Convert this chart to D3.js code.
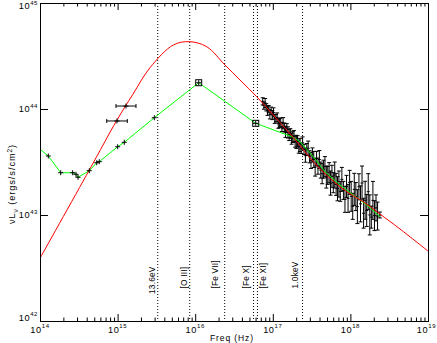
<!DOCTYPE html>
<html><head><meta charset="utf-8">
<script src="https://cdn.jsdelivr.net/npm/d3@7"></script>
<style>
html,body{margin:0;padding:0;background:#fff;}
svg{display:block;}
text{font-family:"Liberation Sans",Arial,Helvetica,sans-serif;fill:#000;}
</style></head><body>
<svg id="c" width="437" height="343"></svg>
<script>
// ---------- DATA (log10 values) ----------
const xTickExp = [14, 15, 16, 17, 18, 19];
const yTickExp = [42, 43, 44, 45];

// model (red)
const modelNu = [14.000, 14.635, 14.992, 15.198, 15.418, 15.718, 15.929, 16.148, 16.384, 16.577, 16.793, 17.006, 17.264, 17.522, 17.737, 17.952, 18.166, 18.381, 18.639, 19.000];
const modelL  = [42.592, 43.424, 43.896, 44.140, 44.390, 44.604, 44.635, 44.588, 44.415, 44.274, 44.116, 43.943, 43.731, 43.503, 43.346, 43.220, 43.125, 43.009, 42.868, 42.660];

// photometric points (crosses, on green SED)
const photNu = [13.936, 14.107, 14.267, 14.421, 14.464, 14.490, 14.635, 14.731, 14.764, 15.001, 15.086, 15.473];
const photL  = [43.658, 43.557, 43.399, 43.399, 43.384, 43.356, 43.418, 43.493, 43.503, 43.644, 43.686, 43.918];
// square points
const sqNu = [16.045, 16.780];
const sqL  = [44.248, 43.865];
// binned X-ray points of the SED line
const binNu = [17.244, 17.351, 17.522, 17.673, 17.866, 18.037, 18.210, 18.381];
const binL  = [43.739, 43.692, 43.550, 43.408, 43.283, 43.189, 43.094, 42.984];

// UV points with frequency error bars
const uvNu   = [15.108, 14.992];
const uvNuLo = [14.979, 14.860];
const uvNuHi = [15.237, 15.125];
const uvL    = [44.028, 43.887];

// X-ray spectrum
const xrNu = [16.870,16.885,16.901,16.916,16.932,16.947,16.963,16.978,16.994,17.009,17.025,17.040,17.056,17.071,17.087,17.102,17.118,17.133,17.149,17.164,17.180,17.195,17.211,17.226,17.242,17.257,17.273,17.288,17.304,17.319,17.335,17.350,
 17.366,17.384,17.402,17.420,17.438,17.456,17.474,17.492,17.510,17.528,17.546,17.564,17.582,17.600,17.618,17.636,17.654,17.672,17.690,17.708,17.726,17.744,17.762,17.780,17.798,17.816,17.834,17.852,
 17.870,17.890,17.910,17.930,17.950,17.970,17.990,18.010,18.030,18.050,18.070,18.090,18.110,18.130,18.150,18.170,18.190,18.210,18.230,18.250,18.270,18.290,18.310,18.330,18.350,18.380];
const xrL = [44.072,44.032,44.056,44.016,43.983,43.999,43.949,43.984,43.943,43.968,43.907,43.914,43.920,43.861,43.867,43.873,43.831,43.866,43.825,43.785,43.819,43.779,43.755,43.771,43.721,43.737,43.743,43.693,43.690,43.695,43.645,43.661,
 43.629,43.680,43.618,43.565,43.617,43.630,43.549,43.515,43.566,43.524,43.452,43.533,43.461,43.523,43.424,43.390,43.432,43.456,43.358,43.374,43.399,43.301,43.365,43.305,43.377,43.289,43.248,43.292,
 43.223,43.336,43.232,43.148,43.270,43.157,43.308,43.176,43.082,43.242,43.174,43.079,43.266,43.105,43.302,43.017,43.139,43.043,43.220,43.001,42.980,43.138,42.994,43.067,42.990,43.000];
const xrErr = [0.034,0.034,0.043,0.034,0.043,0.034,0.043,0.034,0.043,0.043,0.043,0.034,0.043,0.043,0.043,0.043,0.043,0.053,0.043,0.053,0.043,0.053,0.053,0.043,0.053,0.053,0.053,0.053,0.062,0.053,0.062,0.062,
 0.048,0.057,0.048,0.067,0.057,0.067,0.057,0.076,0.067,0.076,0.085,0.067,0.076,0.085,0.076,0.095,0.085,0.095,0.104,0.085,0.095,0.114,0.104,0.095,0.123,0.104,0.114,0.123,
 0.094,0.113,0.085,0.123,0.104,0.132,0.113,0.141,0.123,0.151,0.132,0.160,0.123,0.170,0.160,0.141,0.179,0.151,0.170,0.189,0.104,0.179,0.141,0.123,0.132,0.028];

// vertical reference lines
const refNu = [3.29e15, 8.5e15, 2.40e16, 5.65e16, 6.34e16, 2.418e17];
const refLabel = ["13.6eV", "[O III]", "[Fe VII]", "[Fe X]", "[Fe XI]", "1.0keV"];

// ---------- LAYOUT ----------
const L = 40, R = 428, T = 3, B = 321;
const labelDx = [-2.5, -2.5, -6.5, -5, 8.5, -4.5];   // label baseline offset from its line (px)
const labelY  = [294, 288.5, 288.5, 288.5, 288.5, 288.5];

// ---------- DRAW ----------
const p = v => Math.pow(10, v);
const x = d3.scaleLog().domain([1e14, 1e19]).range([L, R]);
const y = d3.scaleLog().domain([1e42, 1e45]).range([B, T]);
const svg = d3.select("#c");

svg.append("clipPath").attr("id", "clip").append("rect")
  .attr("x", L).attr("y", T).attr("width", R - L).attr("height", B - T);
const plot = svg.append("g").attr("clip-path", "url(#clip)");

// reference lines
refNu.forEach((f, i) => {
  plot.append("line").attr("x1", x(f)).attr("x2", x(f)).attr("y1", T).attr("y2", B)
    .attr("stroke", "#000").attr("stroke-width", 1).attr("stroke-dasharray", "1,2");
  svg.append("text")
    .attr("transform", `translate(${x(f) + labelDx[i]},${labelY[i]}) rotate(-90)`)
    .attr("font-size", 8.3).attr("letter-spacing", 0.2).text(refLabel[i]);
});

// X-ray data
const xr = xrNu.map((n, i) => ({ n: n, l: xrL[i], e: xrErr[i] }));
const xg = plot.append("g").attr("stroke", "#000").attr("stroke-width", 1).attr("fill", "none");
xr.forEach(d => {
  const cx = x(p(d.n)), y1 = y(p(d.l + d.e)), y2 = y(p(d.l - d.e)), cy = y(p(d.l));
  xg.append("line").attr("x1", cx).attr("x2", cx).attr("y1", y1).attr("y2", y2);
  xg.append("line").attr("x1", cx - 2).attr("x2", cx + 2).attr("y1", y1).attr("y2", y1);
  xg.append("line").attr("x1", cx - 2).attr("x2", cx + 2).attr("y1", y2).attr("y2", y2);
  xg.append("line").attr("x1", cx - 1.5).attr("x2", cx + 1.5).attr("y1", cy).attr("y2", cy);
});

// green SED line
const sedNu = photNu.concat(sqNu, binNu);
const sedL = photL.concat(sqL, binL);
const sed = sedNu.map((n, i) => [p(n), p(sedL[i])]);
plot.append("path").datum(sed)
  .attr("d", d3.line().x(d => x(d[0])).y(d => y(d[1])))
  .attr("fill", "none").attr("stroke", "#00ff00").attr("stroke-width", 1);

// red model
const model = modelNu.map((n, i) => [p(n), p(modelL[i])]);
plot.append("path").datum(model)
  .attr("d", d3.line().curve(d3.curveCatmullRom.alpha(0.5)).x(d => x(d[0])).y(d => y(d[1])))
  .attr("fill", "none").attr("stroke", "#ff0000").attr("stroke-width", 1);

// markers
const mg = plot.append("g").attr("stroke", "#000").attr("stroke-width", 1).attr("fill", "none");
function cross(cx, cy, s) {
  mg.append("line").attr("x1", cx - s).attr("x2", cx + s).attr("y1", cy).attr("y2", cy);
  mg.append("line").attr("x1", cx).attr("x2", cx).attr("y1", cy - s).attr("y2", cy + s);
}
photNu.forEach((n, i) => cross(x(p(n)), y(p(photL[i])), 2.5));
sqNu.forEach((n, i) => {
  const cx = x(p(n)), cy = y(p(sqL[i]));
  mg.append("rect").attr("x", cx - 3).attr("y", cy - 3).attr("width", 6).attr("height", 6);
  cross(cx, cy, 2.5);
});
uvNu.forEach((n, i) => {
  const cx = x(p(n)), cy = y(p(uvL[i])), xl = x(p(uvNuLo[i])), xh = x(p(uvNuHi[i]));
  mg.append("line").attr("x1", xl).attr("x2", xh).attr("y1", cy).attr("y2", cy);
  mg.append("line").attr("x1", xl).attr("x2", xl).attr("y1", cy - 2).attr("y2", cy + 2);
  mg.append("line").attr("x1", xh).attr("x2", xh).attr("y1", cy - 2).attr("y2", cy + 2);
  cross(cx, cy, 2.5);
});

// axes
const majX = xTickExp.map(p), majY = yTickExp.map(p);
const minX = [];
for (let d = 14; d < 19; d++) for (let k = 2; k < 10; k++) minX.push(k * p(d));
function axisG(axis, tr) {
  const g = svg.append("g").attr("transform", tr).call(axis);
  g.select(".domain").remove();
  g.selectAll("text").remove();
  g.selectAll("line").attr("stroke", "#000");
  return g;
}
axisG(d3.axisBottom(x).tickValues(majX).tickSize(-7).tickFormat(""), `translate(0,${B})`);
axisG(d3.axisBottom(x).tickValues(minX).tickSize(-3.5).tickFormat(""), `translate(0,${B})`);
axisG(d3.axisTop(x).tickValues(majX).tickSize(-7).tickFormat(""), `translate(0,${T})`);
axisG(d3.axisTop(x).tickValues(minX).tickSize(-3.5).tickFormat(""), `translate(0,${T})`);
axisG(d3.axisLeft(y).tickValues(majY).tickSize(-8).tickFormat(""), `translate(${L},0)`);
axisG(d3.axisRight(y).tickValues(majY).tickSize(-8).tickFormat(""), `translate(${R},0)`);

svg.append("rect").attr("x", L + 0.5).attr("y", T + 0.5).attr("width", R - L).attr("height", B - T)
  .attr("fill", "none").attr("stroke", "#000").attr("stroke-width", 1);

// tick labels
xTickExp.forEach(e => {
  const t = svg.append("text").attr("x", Math.min(x(p(e)), 426.5)).attr("y", 332.5).attr("text-anchor", "middle")
    .attr("font-size", 9.2).attr("letter-spacing", 0.6);
  t.append("tspan").text("10");
  t.append("tspan").attr("dy", -4.5).attr("font-size", 6).text(e);
});
yTickExp.forEach(e => {
  const yy = Math.min(Math.max(y(p(e)) + 3, 9), 320.5);
  const t = svg.append("text").attr("x", 38).attr("y", yy).attr("text-anchor", "end")
    .attr("font-size", 9.2).attr("letter-spacing", 0.6);
  t.append("tspan").text("10");
  t.append("tspan").attr("dy", -4.5).attr("font-size", 6).text(e);
});

// axis titles
svg.append("text").attr("x", 232).attr("y", 341).attr("text-anchor", "middle")
  .attr("font-size", 8.5).attr("letter-spacing", 0.9).text("Freq (Hz)");
const yt = svg.append("text").attr("transform", "translate(15,184) rotate(-90)")
  .attr("text-anchor", "middle").attr("font-size", 9.3).attr("letter-spacing", 0.9);
yt.append("tspan").text("νL");
yt.append("tspan").attr("dy", 2.5).attr("font-size", 6.5).text("ν");
yt.append("tspan").attr("dy", -2.5).text(" (ergs/s/cm");
yt.append("tspan").attr("dy", -3.5).attr("font-size", 6.5).text("2");
yt.append("tspan").attr("dy", 3.5).text(")");
</script>
</body></html>
